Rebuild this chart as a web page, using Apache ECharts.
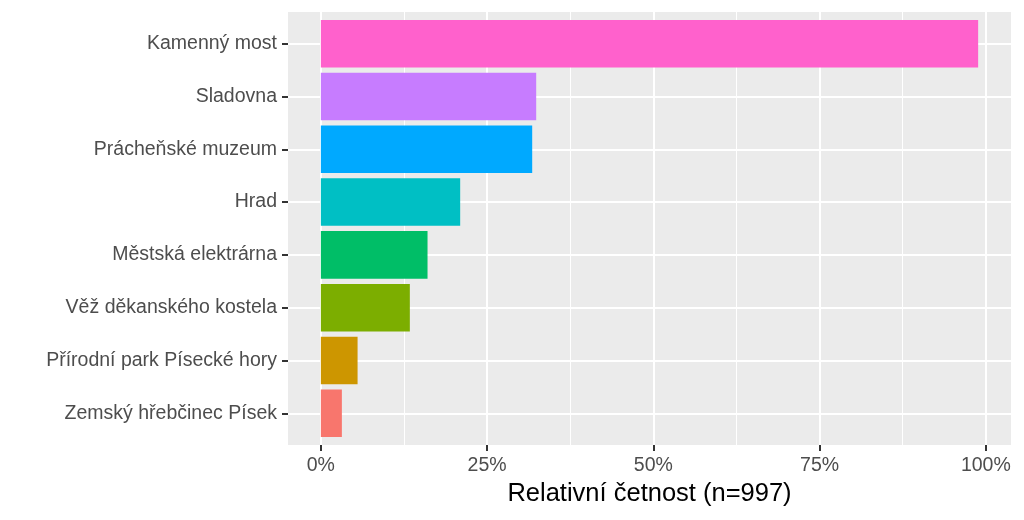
<!DOCTYPE html>
<html><head><meta charset="utf-8">
<script src="https://cdn.jsdelivr.net/npm/echarts@6/dist/echarts.min.js"></script>
<style>html,body{margin:0;padding:0;background:#fff}#c{width:1024px;height:520px}</style>
</head><body><div id="c"></div>
<script>
const categories = ['Zemský hřebčinec Písek','Přírodní park Písecké hory','Věž děkanského kostela','Městská elektrárna','Hrad','Prácheňské muzeum','Sladovna','Kamenný most'];
const values = [3.16, 5.52, 13.38, 16.04, 20.95, 31.78, 32.38, 98.84];
const barColors = ['#F8766D','#CD9600','#7CAE00','#00BE67','#00BFC4','#00A9FF','#C77CFF','#FF61CC'];
const xMajorTicks = [0, 25, 50, 75, 100];
const xMinorTicks = [12.5, 37.5, 62.5, 87.5];
const xTitle = 'Relativní četnost (n=997)';

const FONT = "'Liberation Sans', Arial, sans-serif";
const xMin = -4.942, xMax = 103.78;
const yPos = categories.map((_, i) => i + 1);
const tickStyle = { color: '#333333', width: 2 };

const chart = echarts.init(document.getElementById('c'), null, { renderer: 'canvas' });
chart.setOption({
  animation: false,
  backgroundColor: '#ffffff',
  grid: [
    { left: 288, top: 17.28, width: 723, height: 422.4, show: false },
    { left: 288, top: 12, width: 723, height: 433, show: true, backgroundColor: '#EBEBEB', borderWidth: 0 }
  ],
  xAxis: [
    { gridIndex: 0, type: 'value', min: xMin, max: xMax, show: false },
    { gridIndex: 1, type: 'value', min: xMin, max: xMax, position: 'bottom',
      axisLine: { show: false, onZero: false },
      axisTick: { show: true, customValues: xMajorTicks, length: 6, lineStyle: tickStyle },
      axisLabel: { show: true, customValues: xMajorTicks, formatter: v => v + '%', color: '#4D4D4D', fontSize: 19.5, fontFamily: FONT, margin: 11 },
      splitLine: { show: true, lineStyle: { color: '#ffffff', width: 2 } },
      name: xTitle, nameLocation: 'middle', nameGap: 36,
      nameTextStyle: { color: '#000000', fontSize: 25.5, fontFamily: FONT }
    },
    { gridIndex: 1, type: 'value', min: xMin, max: xMax, position: 'bottom',
      axisLine: { show: false, onZero: false },
      axisTick: { show: false, customValues: xMinorTicks },
      axisLabel: { show: false, customValues: xMinorTicks },
      splitLine: { show: true, lineStyle: { color: '#ffffff', width: 1 } }
    }
  ],
  yAxis: [
    { gridIndex: 0, type: 'category', data: categories, show: false },
    { gridIndex: 1, type: 'value', min: 0.4, max: 8.6, position: 'left',
      axisLine: { show: false, onZero: false },
      axisTick: { show: true, customValues: yPos, length: 6, lineStyle: tickStyle },
      axisLabel: { show: true, customValues: yPos, formatter: v => categories[Math.round(v) - 1] || '', color: '#4D4D4D', fontSize: 19.5, fontFamily: FONT, margin: 11 },
      splitLine: { show: true, lineStyle: { color: '#ffffff', width: 2 } }
    }
  ],
  series: [{
    type: 'bar', xAxisIndex: 0, yAxisIndex: 0, barWidth: '90%', silent: true,
    data: values.map((v, i) => ({ value: v, itemStyle: { color: barColors[i] } }))
  }]
});
</script>
</body></html>
